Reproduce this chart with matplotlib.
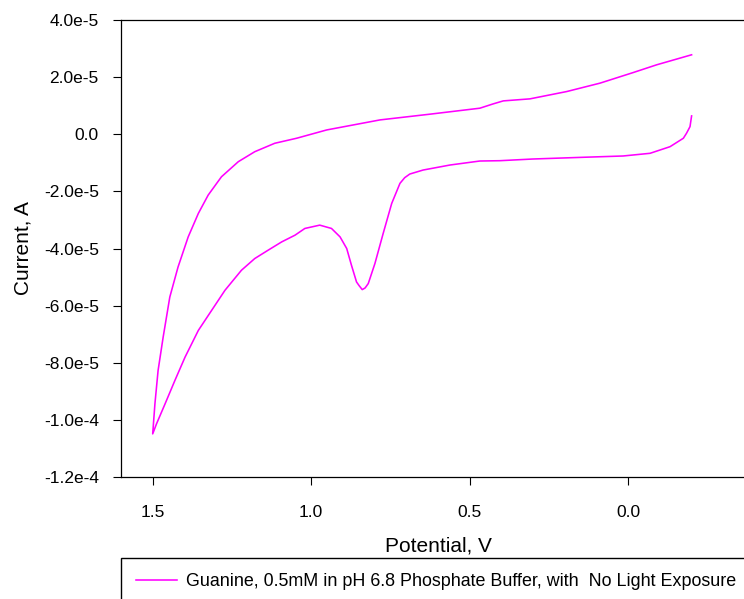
import numpy as np
import matplotlib
matplotlib.use("Agg")
import matplotlib.pyplot as plt

plt.rcParams['font.family'] = ['Liberation Sans', 'DejaVu Sans']

# Cyclic voltammogram (potential in V, current in 1e-5 A)
# forward sweep: -0.2 V -> 1.5 V
fwd_v = [-0.200, -0.195, -0.184, -0.174, -0.132, -0.069, 0.016, 0.143, 0.301, 0.405,
         0.468, 0.562, 0.647, 0.689, 0.705, 0.720, 0.746, 0.773, 0.799, 0.820, 0.830,
         0.839, 0.849, 0.857, 0.873, 0.888, 0.909, 0.936, 0.973, 1.020, 1.051, 1.093,
         1.136, 1.178, 1.220, 1.272, 1.314, 1.356, 1.398, 1.430, 1.461, 1.488, 1.500]
fwd_i = [0.642, 0.267, 0.035, -0.140, -0.435, -0.667, -0.761, -0.807, -0.867, -0.926,
         -0.937, -1.077, -1.253, -1.393, -1.520, -1.719, -2.421, -3.474, -4.526, -5.228,
         -5.382, -5.439, -5.298, -5.172, -4.586, -4.000, -3.593, -3.298, -3.182, -3.298,
         -3.533, -3.768, -4.060, -4.351, -4.761, -5.463, -6.165, -6.867, -7.804, -8.621,
         -9.439, -10.140, -10.49]
# reverse sweep: 1.5 V -> -0.2 V
rev_v = [1.500, 1.493, 1.483, 1.467, 1.446, 1.420, 1.388, 1.356, 1.325, 1.283,
         1.230, 1.178, 1.115, 1.046, 0.951, 0.783, 0.626, 0.468, 0.426, 0.394,
         0.310, 0.194, 0.089, -0.016, -0.090, -0.200]
rev_i = [-10.49, -9.439, -8.270, -7.102, -5.698, -4.646, -3.593, -2.772, -2.130, -1.488,
         -0.961, -0.611, -0.316, -0.140, 0.151, 0.502, 0.702, 0.912, 1.063, 1.168,
         1.239, 1.495, 1.789, 2.161, 2.432, 2.782]

potential = np.array(fwd_v + rev_v[1:])
current = np.array(fwd_i + rev_i[1:]) * 1e-5

y_ticks = [4e-5, 2e-5, 0, -2e-5, -4e-5, -6e-5, -8e-5, -1e-4, -1.2e-4]
y_labels = ['4.0e-5', '2.0e-5', '0.0', '-2.0e-5', '-4.0e-5', '-6.0e-5', '-8.0e-5',
            '-1.0e-4', '-1.2e-4']
x_ticks = [1.5, 1.0, 0.5, 0.0]
x_labels = ['1.5', '1.0', '0.5', '0.0']

fig = plt.figure(figsize=(7.44, 5.99), dpi=100)
ax = fig.add_axes([121 / 744, 1 - 477 / 599, 634 / 744, 457 / 599])

line, = ax.plot(potential, current, color='#FF00FF', linewidth=1.15,
                solid_joinstyle='round',
                label='Guanine, 0.5mM in pH 6.8 Phosphate Buffer, with  No Light Exposure')

ax.set_xlim(1.6, -0.4)
ax.set_ylim(-1.2e-4, 4e-5)
ax.set_xticks(x_ticks)
ax.set_xticklabels(x_labels)
ax.set_yticks(y_ticks)
ax.set_yticklabels(y_labels)
ax.tick_params(axis='both', direction='out', length=6, width=0.8, labelsize=12.5)
ax.tick_params(axis='x', pad=14)
ax.tick_params(axis='y', pad=10)
for s in ax.spines.values():
    s.set_linewidth(0.9)

ax.set_xlabel('Potential, V', fontsize=15, labelpad=12)
ax.set_ylabel('Current, A', fontsize=15, labelpad=8)

fig.legend(handles=[line], loc='upper left',
           bbox_to_anchor=(121 / 744, 1 - 558 / 599 - 0.05, 1.0, 0.05), mode='expand',
           fancybox=False, edgecolor='black', framealpha=1, fontsize=12.9,
           handlelength=2.3, handletextpad=0.45, borderpad=0.85, borderaxespad=0)

fig.savefig('out.png', dpi=100)
